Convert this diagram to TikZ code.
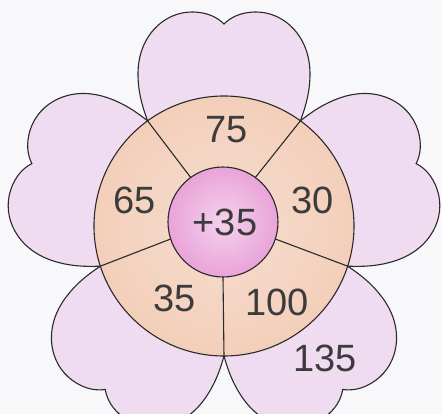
\documentclass[tikz,border=0pt]{standalone}
\usepackage{fontspec}
\setmainfont{Liberation Sans}
\definecolor{bgc}{HTML}{F8F7FA}
\definecolor{petalc}{HTML}{F0DCF1}
\definecolor{ringc}{HTML}{F3CFBA}
\definecolor{ringin}{HTML}{F6DDD0}
\definecolor{hubout}{HTML}{E9A3D8}
\definecolor{hubin}{HTML}{F5D2EE}
\definecolor{inkc}{HTML}{2A2A2A}
\definecolor{txtc}{HTML}{3C3C3C}
\tikzset{
  petal/.style={fill=petalc, draw=inkc, line width=1.1pt},
  ringstyle/.style={circle, draw=inkc, line width=1.1pt, inner sep=0pt, outer sep=0pt, minimum size=260pt, inner color=ringin, outer color=ringc},
  hubstyle/.style={circle, draw=inkc, line width=1.1pt, inner sep=0pt, outer sep=0pt, minimum size=110pt, inner color=hubin, outer color=hubout},
  divider/.style={draw=inkc, line width=1.1pt},
  num/.style={text=txtc, font=\fontsize{38}{44}\selectfont, inner sep=0pt}
}
\begin{document}
\begin{tikzpicture}[x=1pt, y=1pt]
\fill[bgc] (-224,-188) rectangle (218,226);
\useasboundingbox (-224,-188) rectangle (218,226);
\foreach \a in {0,72,144,216,288}{
  \begin{scope}[rotate=\a]
    \path[petal] (-76.4,105.2) .. controls (-82,120) and (-86,135) .. (-86,152)
      .. controls (-86,190) and (-60,214) .. (-32,214)
      .. controls (-16,214) and (-6,208) .. (0,202)
      .. controls (6,208) and (16,214) .. (32,214)
      .. controls (60,214) and (86,190) .. (86,152)
      .. controls (86,135) and (82,120) .. (76.4,105.2) -- cycle;
  \end{scope}
}
\node[ringstyle] (ring) at (0,0) {};
\node[hubstyle] (hub) at (-1,4) {};
\foreach \a in {126,54,-18,-90,198}{
  \draw[divider] (hub.\a) -- (ring.\a);
}
\node[num] (t35c) at (1,4) {+35};
\node[num] (t75) at (3,96) {75};
\node[num] (t65) at (-89,26) {65};
\node[num] (t30) at (89,26) {30};
\node[num] (t35) at (-49,-72) {35};
\node[num] (t100) at (53,-76) {100};
\node[num] (t135) at (101,-132) {135};
\end{tikzpicture}
\end{document}
